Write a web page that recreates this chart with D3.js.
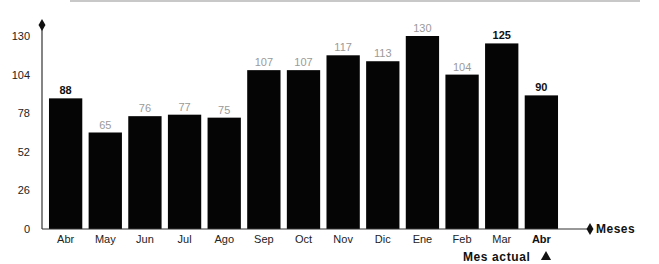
<!DOCTYPE html>
<html>
<head>
  <meta charset="UTF-8">
  <title>meses</title>
  <style type="text/css">
    body { margin: 0; background: #fff; }
    svg { font-family: "Liberation Sans", Arial, sans-serif; }
    .bar { fill: #050505; }
    .tick text { font-size: 11px; fill: #222; }
    .axis path, .axis line { stroke: #333; }
  </style>
</head>
<body>
  <div class="svg-zone"></div>
  <script src="https://cdn.jsdelivr.net/npm/d3@7"></script>
  <script type="text/javascript">
    var months = ["Abr", "May", "Jun", "Jul", "Ago", "Sep", "Oct", "Nov", "Dic", "Ene", "Feb", "Mar", "Abr "];
    var values = [88, 65, 76, 77, 75, 107, 107, 117, 113, 130, 104, 125, 90];
    var highlighted = [0, 11, 12];
    var yTicks = [0, 26, 52, 78, 104, 130];

    var width = 659,
      height = 264,
      x0 = 42,
      baseY = 229;

    var x = d3.scaleBand()
      .domain(d3.range(months.length))
      .range([47, 560])
      .paddingInner(0.16)
      .paddingOuter(0.05);

    var y = d3.scaleLinear()
      .domain([0, 130])
      .range([baseY, 36]);

    var svg = d3.select(".svg-zone").append("svg")
      .attr("width", width)
      .attr("height", height);

    // scan artefact line at the top
    svg.append("line")
      .attr("x1", 70).attr("x2", 640).attr("y1", 1).attr("y2", 1)
      .attr("stroke", "#c8c8c8").attr("stroke-width", 2);

    svg.selectAll(".bar")
      .data(values)
      .enter().append("rect")
      .attr("class", "bar")
      .attr("x", function (d, i) { return x(i); })
      .attr("width", x.bandwidth())
      .attr("y", function (d) { return y(d); })
      .attr("height", function (d) { return baseY - y(d); });

    svg.selectAll(".val")
      .data(values)
      .enter().append("text")
      .attr("class", "val")
      .attr("x", function (d, i) { return x(i) + x.bandwidth() / 2; })
      .attr("y", function (d) { return y(d) - 4; })
      .attr("text-anchor", "middle")
      .style("font-size", "11px")
      .style("font-weight", function (d, i) { return highlighted.indexOf(i) >= 0 ? "bold" : "normal"; })
      .style("fill", function (d, i) { return highlighted.indexOf(i) >= 0 ? "#111" : "#9a9a9a"; })
      .text(function (d) { return d; });

    // y axis
    var yAxis = svg.append("g")
      .attr("class", "axis")
      .attr("transform", "translate(" + x0 + ",0)")
      .call(d3.axisLeft(y).tickValues(yTicks).tickSize(0).tickPadding(12));
    yAxis.select(".domain").remove();
    yAxis.selectAll("text").style("font-size", "11px");

    svg.append("line")
      .attr("x1", x0).attr("x2", x0)
      .attr("y1", 25).attr("y2", baseY)
      .attr("stroke", "#333").attr("stroke-width", 1.2);

    // x axis
    var xAxis = svg.append("g")
      .attr("class", "axis")
      .attr("transform", "translate(0," + baseY + ")")
      .call(d3.axisBottom(x).tickSize(0).tickPadding(6).tickFormat(function (i) { return months[i]; }));
    xAxis.select(".domain").remove();
    xAxis.selectAll(".tick text")
      .style("font-weight", function (i) { return i === months.length - 1 ? "bold" : "normal"; })
      .style("fill", function (i) { return i === months.length - 1 ? "#111" : "#222"; });

    svg.append("line")
      .attr("x1", x0).attr("x2", 590)
      .attr("y1", baseY).attr("y2", baseY)
      .attr("stroke", "#333").attr("stroke-width", 1.2);

    var diamond = d3.symbol().type(d3.symbolDiamond).size(42);
    svg.append("path").attr("d", diamond).attr("fill", "#111")
      .attr("transform", "translate(" + x0 + ",25)");
    svg.append("path").attr("d", diamond).attr("fill", "#111")
      .attr("transform", "translate(590," + baseY + ")");

    svg.append("text")
      .attr("x", 596).attr("y", baseY + 4)
      .style("font-size", "12px").style("font-weight", "bold").style("fill", "#111")
      .style("letter-spacing", "0.5px")
      .text("Meses");

    svg.append("text")
      .attr("x", 463).attr("y", 261)
      .style("font-size", "12px").style("font-weight", "bold").style("fill", "#111")
      .style("letter-spacing", "0.6px")
      .text("Mes actual");
    svg.append("path")
      .attr("d", d3.symbol().type(d3.symbolTriangle).size(45))
      .attr("fill", "#111")
      .attr("transform", "translate(546,257)");
  </script>
</body>
</html>
